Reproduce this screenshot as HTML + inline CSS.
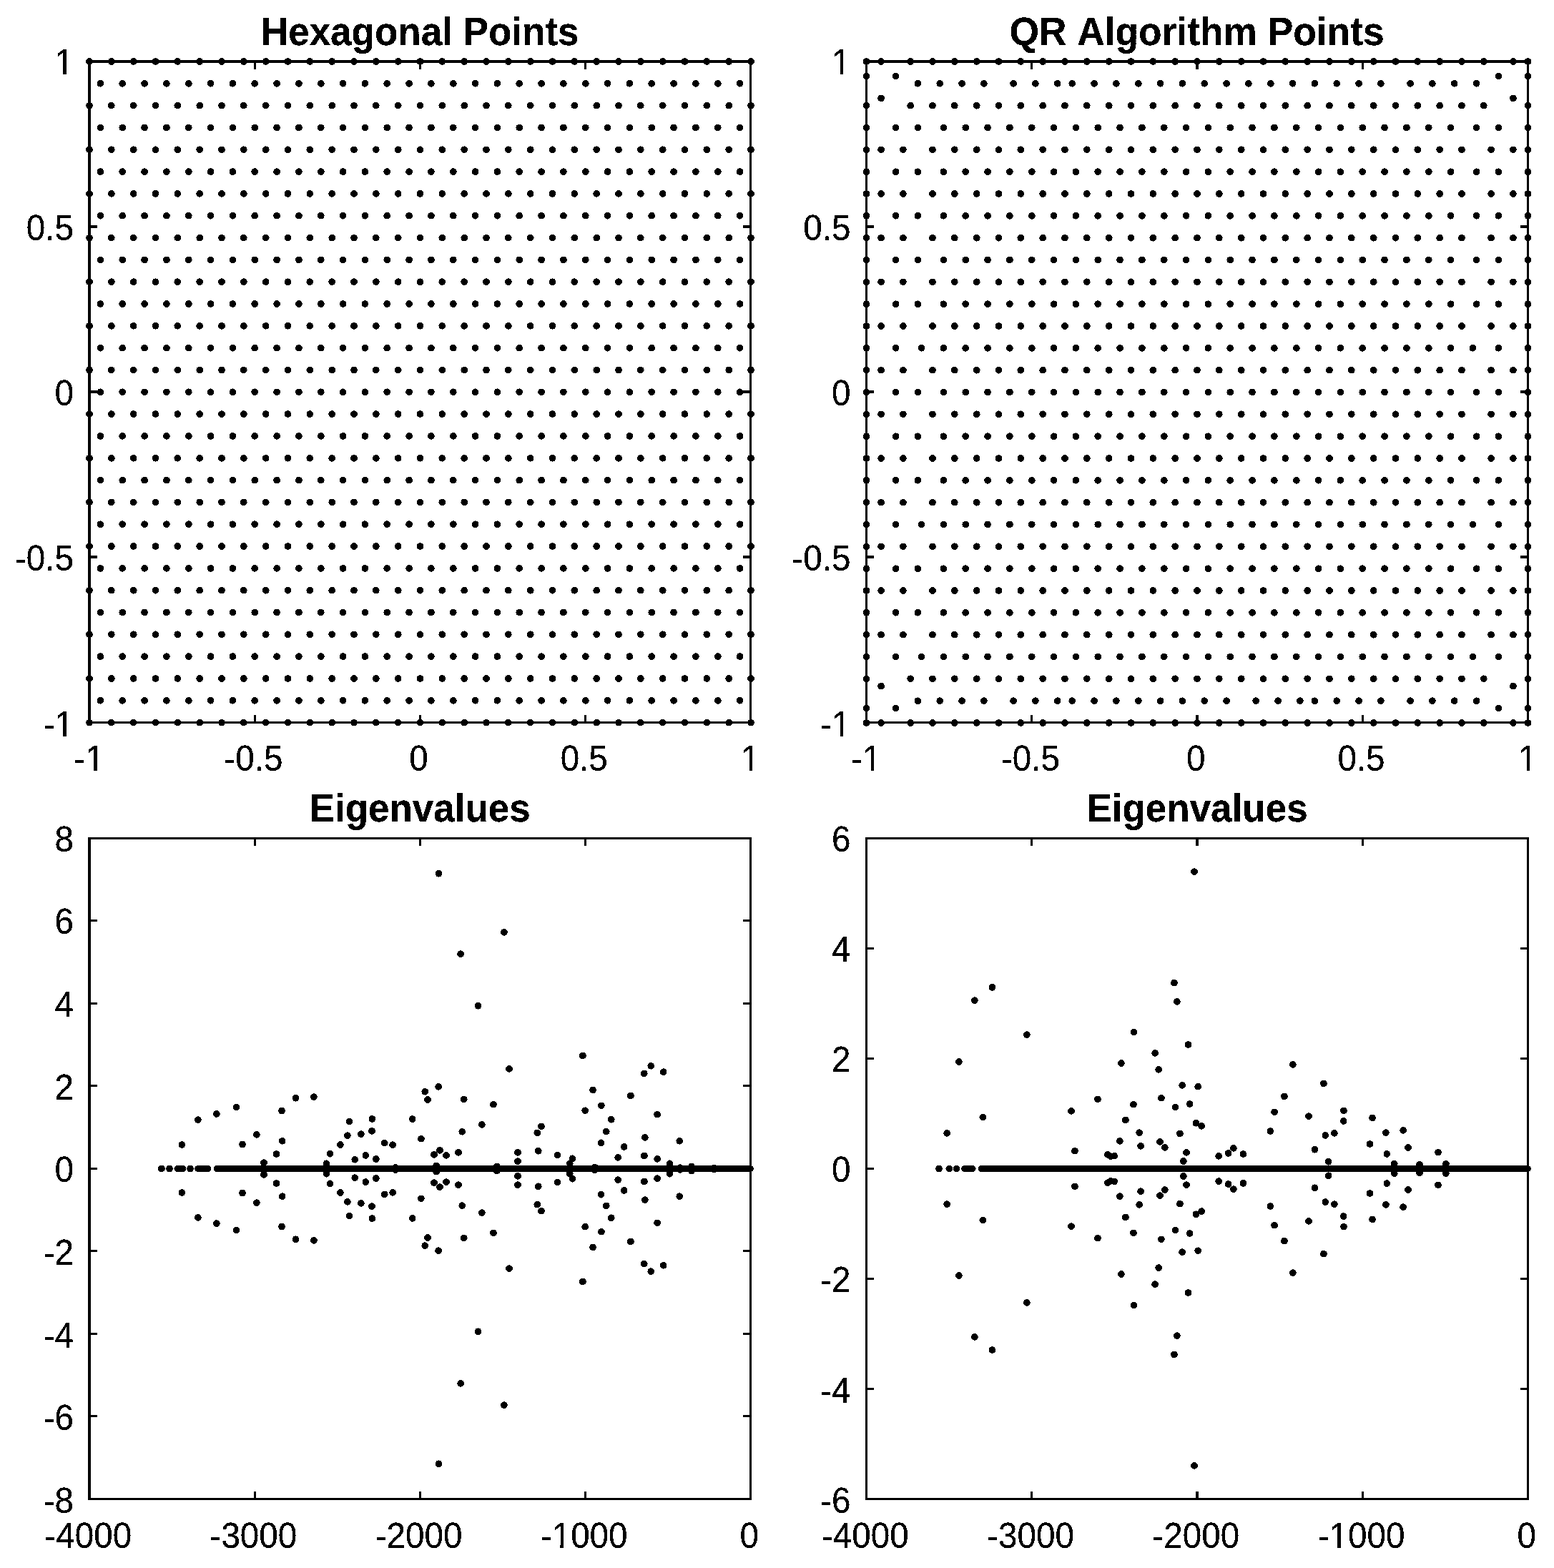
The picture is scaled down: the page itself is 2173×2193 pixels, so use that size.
<!DOCTYPE html>
<html lang="en">
<head>
<meta charset="utf-8">
<title>Hexagonal Points, QR Algorithm Points and Eigenvalues</title>
<style>
html,body{margin:0;padding:0;background:#fff;}
body{width:2173px;height:2193px;overflow:hidden;}
svg{display:block;}
text{font-family:"Liberation Sans",sans-serif;fill:#000;font-kerning:none;filter:url(#bw);}
.tk{font-size:47.6px;}
.tt{font-size:53px;font-weight:bold;}
</style>
</head>
<body>
<svg width="2173" height="2193" viewBox="0 0 2173 2193" shape-rendering="crispEdges">
<defs><filter id="bw" x="-5%" y="-20%" width="110%" height="140%" color-interpolation-filters="sRGB"><feComponentTransfer><feFuncA type="discrete" tableValues="0 1 1"/></feComponentTransfer></filter></defs>
<rect width="2173" height="2193" fill="#fff"/>
<path d="M123 84H1051V1012H123ZM127 88V1009H1048V88Z" fill="#000" fill-rule="evenodd"/><text transform="translate(124.6 1078.3) scale(1 1.03)" text-anchor="middle" class="tk">-1</text><path d="M121.91 1074.04h9.09v4.86h-9.09zM135.72 1074.04h8.72v4.86h-8.72z" fill="#fff"/><text transform="translate(354.4 1078.3) scale(1 1.03)" text-anchor="middle" class="tk">-0.5</text><text transform="translate(585.5 1078.3) scale(1 1.03)" text-anchor="middle" class="tk">0</text><text transform="translate(816.7 1078.3) scale(1 1.03)" text-anchor="middle" class="tk">0.5</text><text transform="translate(1049.1 1078.3) scale(1 1.03)" text-anchor="middle" class="tk">1</text><path d="M1038.49 1074.04h9.09v4.86h-9.09zM1052.29 1074.04h8.72v4.86h-8.72z" fill="#fff"/><text transform="translate(103 1029.8) scale(1 1.03)" text-anchor="end" class="tk">-1</text><path d="M79.15 1025.54h9.09v4.86h-9.09zM92.95 1025.54h8.72v4.86h-8.72z" fill="#fff"/><text transform="translate(103 798.4) scale(1 1.03)" text-anchor="end" class="tk">-0.5</text><text transform="translate(103 567) scale(1 1.03)" text-anchor="end" class="tk">0</text><text transform="translate(103 335.6) scale(1 1.03)" text-anchor="end" class="tk">0.5</text><text transform="translate(103 104.2) scale(1 1.03)" text-anchor="end" class="tk">1</text><path d="M79.15 99.94h9.09v4.86h-9.09zM92.95 99.94h8.72v4.86h-8.72z" fill="#fff"/><path d="M356.1 1010.5v-10.7M356.1 86v10.7M587.2 1010.5v-10.7M587.2 86v10.7M818.4 1010.5v-10.7M818.4 86v10.7" stroke="#000" stroke-width="3.2" fill="none"/><path d="M125 779h10.7M1049.5 779h-10.7M125 548h10.7M1049.5 548h-10.7M125 317h10.7M1049.5 317h-10.7" stroke="#000" stroke-width="4" fill="none"/><text transform="translate(587.2 62.6) scale(1 1.05)" text-anchor="middle" class="tt">Hexagonal Points</text>
<path d="M125 86h0M155.8 86h0M186.7 86h0M217.5 86h0M248.3 86h0M279.2 86h0M310 86h0M340.8 86h0M371.7 86h0M402.5 86h0M433.3 86h0M464.2 86h0M495 86h0M525.8 86h0M556.7 86h0M587.5 86h0M618.3 86h0M649.2 86h0M680 86h0M710.8 86h0M741.7 86h0M772.5 86h0M803.3 86h0M834.2 86h0M865 86h0M895.8 86h0M926.7 86h0M957.5 86h0M988.3 86h0M1019.2 86h0M1050 86h0M140.4 116.8h0M171.2 116.8h0M202.1 116.8h0M232.9 116.8h0M263.8 116.8h0M294.6 116.8h0M325.4 116.8h0M356.2 116.8h0M387.1 116.8h0M417.9 116.8h0M448.8 116.8h0M479.6 116.8h0M510.4 116.8h0M541.2 116.8h0M572.1 116.8h0M602.9 116.8h0M633.8 116.8h0M664.6 116.8h0M695.4 116.8h0M726.2 116.8h0M757.1 116.8h0M787.9 116.8h0M818.8 116.8h0M849.6 116.8h0M880.4 116.8h0M911.2 116.8h0M942.1 116.8h0M972.9 116.8h0M1003.8 116.8h0M1034.6 116.8h0M125 147.6h0M155.8 147.6h0M186.7 147.6h0M217.5 147.6h0M248.3 147.6h0M279.2 147.6h0M310 147.6h0M340.8 147.6h0M371.7 147.6h0M402.5 147.6h0M433.3 147.6h0M464.2 147.6h0M495 147.6h0M525.8 147.6h0M556.7 147.6h0M587.5 147.6h0M618.3 147.6h0M649.2 147.6h0M680 147.6h0M710.8 147.6h0M741.7 147.6h0M772.5 147.6h0M803.3 147.6h0M834.2 147.6h0M865 147.6h0M895.8 147.6h0M926.7 147.6h0M957.5 147.6h0M988.3 147.6h0M1019.2 147.6h0M1050 147.6h0M140.4 178.5h0M171.2 178.5h0M202.1 178.5h0M232.9 178.5h0M263.8 178.5h0M294.6 178.5h0M325.4 178.5h0M356.2 178.5h0M387.1 178.5h0M417.9 178.5h0M448.8 178.5h0M479.6 178.5h0M510.4 178.5h0M541.2 178.5h0M572.1 178.5h0M602.9 178.5h0M633.8 178.5h0M664.6 178.5h0M695.4 178.5h0M726.2 178.5h0M757.1 178.5h0M787.9 178.5h0M818.8 178.5h0M849.6 178.5h0M880.4 178.5h0M911.2 178.5h0M942.1 178.5h0M972.9 178.5h0M1003.8 178.5h0M1034.6 178.5h0M125 209.3h0M155.8 209.3h0M186.7 209.3h0M217.5 209.3h0M248.3 209.3h0M279.2 209.3h0M310 209.3h0M340.8 209.3h0M371.7 209.3h0M402.5 209.3h0M433.3 209.3h0M464.2 209.3h0M495 209.3h0M525.8 209.3h0M556.7 209.3h0M587.5 209.3h0M618.3 209.3h0M649.2 209.3h0M680 209.3h0M710.8 209.3h0M741.7 209.3h0M772.5 209.3h0M803.3 209.3h0M834.2 209.3h0M865 209.3h0M895.8 209.3h0M926.7 209.3h0M957.5 209.3h0M988.3 209.3h0M1019.2 209.3h0M1050 209.3h0M140.4 240.1h0M171.2 240.1h0M202.1 240.1h0M232.9 240.1h0M263.8 240.1h0M294.6 240.1h0M325.4 240.1h0M356.2 240.1h0M387.1 240.1h0M417.9 240.1h0M448.8 240.1h0M479.6 240.1h0M510.4 240.1h0M541.2 240.1h0M572.1 240.1h0M602.9 240.1h0M633.8 240.1h0M664.6 240.1h0M695.4 240.1h0M726.2 240.1h0M757.1 240.1h0M787.9 240.1h0M818.8 240.1h0M849.6 240.1h0M880.4 240.1h0M911.2 240.1h0M942.1 240.1h0M972.9 240.1h0M1003.8 240.1h0M1034.6 240.1h0M125 270.9h0M155.8 270.9h0M186.7 270.9h0M217.5 270.9h0M248.3 270.9h0M279.2 270.9h0M310 270.9h0M340.8 270.9h0M371.7 270.9h0M402.5 270.9h0M433.3 270.9h0M464.2 270.9h0M495 270.9h0M525.8 270.9h0M556.7 270.9h0M587.5 270.9h0M618.3 270.9h0M649.2 270.9h0M680 270.9h0M710.8 270.9h0M741.7 270.9h0M772.5 270.9h0M803.3 270.9h0M834.2 270.9h0M865 270.9h0M895.8 270.9h0M926.7 270.9h0M957.5 270.9h0M988.3 270.9h0M1019.2 270.9h0M1050 270.9h0M140.4 301.7h0M171.2 301.7h0M202.1 301.7h0M232.9 301.7h0M263.8 301.7h0M294.6 301.7h0M325.4 301.7h0M356.2 301.7h0M387.1 301.7h0M417.9 301.7h0M448.8 301.7h0M479.6 301.7h0M510.4 301.7h0M541.2 301.7h0M572.1 301.7h0M602.9 301.7h0M633.8 301.7h0M664.6 301.7h0M695.4 301.7h0M726.2 301.7h0M757.1 301.7h0M787.9 301.7h0M818.8 301.7h0M849.6 301.7h0M880.4 301.7h0M911.2 301.7h0M942.1 301.7h0M972.9 301.7h0M1003.8 301.7h0M1034.6 301.7h0M125 332.6h0M155.8 332.6h0M186.7 332.6h0M217.5 332.6h0M248.3 332.6h0M279.2 332.6h0M310 332.6h0M340.8 332.6h0M371.7 332.6h0M402.5 332.6h0M433.3 332.6h0M464.2 332.6h0M495 332.6h0M525.8 332.6h0M556.7 332.6h0M587.5 332.6h0M618.3 332.6h0M649.2 332.6h0M680 332.6h0M710.8 332.6h0M741.7 332.6h0M772.5 332.6h0M803.3 332.6h0M834.2 332.6h0M865 332.6h0M895.8 332.6h0M926.7 332.6h0M957.5 332.6h0M988.3 332.6h0M1019.2 332.6h0M1050 332.6h0M140.4 363.4h0M171.2 363.4h0M202.1 363.4h0M232.9 363.4h0M263.8 363.4h0M294.6 363.4h0M325.4 363.4h0M356.2 363.4h0M387.1 363.4h0M417.9 363.4h0M448.8 363.4h0M479.6 363.4h0M510.4 363.4h0M541.2 363.4h0M572.1 363.4h0M602.9 363.4h0M633.8 363.4h0M664.6 363.4h0M695.4 363.4h0M726.2 363.4h0M757.1 363.4h0M787.9 363.4h0M818.8 363.4h0M849.6 363.4h0M880.4 363.4h0M911.2 363.4h0M942.1 363.4h0M972.9 363.4h0M1003.8 363.4h0M1034.6 363.4h0M125 394.2h0M155.8 394.2h0M186.7 394.2h0M217.5 394.2h0M248.3 394.2h0M279.2 394.2h0M310 394.2h0M340.8 394.2h0M371.7 394.2h0M402.5 394.2h0M433.3 394.2h0M464.2 394.2h0M495 394.2h0M525.8 394.2h0M556.7 394.2h0M587.5 394.2h0M618.3 394.2h0M649.2 394.2h0M680 394.2h0M710.8 394.2h0M741.7 394.2h0M772.5 394.2h0M803.3 394.2h0M834.2 394.2h0M865 394.2h0M895.8 394.2h0M926.7 394.2h0M957.5 394.2h0M988.3 394.2h0M1019.2 394.2h0M1050 394.2h0M140.4 425h0M171.2 425h0M202.1 425h0M232.9 425h0M263.8 425h0M294.6 425h0M325.4 425h0M356.2 425h0M387.1 425h0M417.9 425h0M448.8 425h0M479.6 425h0M510.4 425h0M541.2 425h0M572.1 425h0M602.9 425h0M633.8 425h0M664.6 425h0M695.4 425h0M726.2 425h0M757.1 425h0M787.9 425h0M818.8 425h0M849.6 425h0M880.4 425h0M911.2 425h0M942.1 425h0M972.9 425h0M1003.8 425h0M1034.6 425h0M125 455.8h0M155.8 455.8h0M186.7 455.8h0M217.5 455.8h0M248.3 455.8h0M279.2 455.8h0M310 455.8h0M340.8 455.8h0M371.7 455.8h0M402.5 455.8h0M433.3 455.8h0M464.2 455.8h0M495 455.8h0M525.8 455.8h0M556.7 455.8h0M587.5 455.8h0M618.3 455.8h0M649.2 455.8h0M680 455.8h0M710.8 455.8h0M741.7 455.8h0M772.5 455.8h0M803.3 455.8h0M834.2 455.8h0M865 455.8h0M895.8 455.8h0M926.7 455.8h0M957.5 455.8h0M988.3 455.8h0M1019.2 455.8h0M1050 455.8h0M140.4 486.7h0M171.2 486.7h0M202.1 486.7h0M232.9 486.7h0M263.8 486.7h0M294.6 486.7h0M325.4 486.7h0M356.2 486.7h0M387.1 486.7h0M417.9 486.7h0M448.8 486.7h0M479.6 486.7h0M510.4 486.7h0M541.2 486.7h0M572.1 486.7h0M602.9 486.7h0M633.8 486.7h0M664.6 486.7h0M695.4 486.7h0M726.2 486.7h0M757.1 486.7h0M787.9 486.7h0M818.8 486.7h0M849.6 486.7h0M880.4 486.7h0M911.2 486.7h0M942.1 486.7h0M972.9 486.7h0M1003.8 486.7h0M1034.6 486.7h0M125 517.5h0M155.8 517.5h0M186.7 517.5h0M217.5 517.5h0M248.3 517.5h0M279.2 517.5h0M310 517.5h0M340.8 517.5h0M371.7 517.5h0M402.5 517.5h0M433.3 517.5h0M464.2 517.5h0M495 517.5h0M525.8 517.5h0M556.7 517.5h0M587.5 517.5h0M618.3 517.5h0M649.2 517.5h0M680 517.5h0M710.8 517.5h0M741.7 517.5h0M772.5 517.5h0M803.3 517.5h0M834.2 517.5h0M865 517.5h0M895.8 517.5h0M926.7 517.5h0M957.5 517.5h0M988.3 517.5h0M1019.2 517.5h0M1050 517.5h0M140.4 548.3h0M171.2 548.3h0M202.1 548.3h0M232.9 548.3h0M263.8 548.3h0M294.6 548.3h0M325.4 548.3h0M356.2 548.3h0M387.1 548.3h0M417.9 548.3h0M448.8 548.3h0M479.6 548.3h0M510.4 548.3h0M541.2 548.3h0M572.1 548.3h0M602.9 548.3h0M633.8 548.3h0M664.6 548.3h0M695.4 548.3h0M726.2 548.3h0M757.1 548.3h0M787.9 548.3h0M818.8 548.3h0M849.6 548.3h0M880.4 548.3h0M911.2 548.3h0M942.1 548.3h0M972.9 548.3h0M1003.8 548.3h0M1034.6 548.3h0M125 579.1h0M155.8 579.1h0M186.7 579.1h0M217.5 579.1h0M248.3 579.1h0M279.2 579.1h0M310 579.1h0M340.8 579.1h0M371.7 579.1h0M402.5 579.1h0M433.3 579.1h0M464.2 579.1h0M495 579.1h0M525.8 579.1h0M556.7 579.1h0M587.5 579.1h0M618.3 579.1h0M649.2 579.1h0M680 579.1h0M710.8 579.1h0M741.7 579.1h0M772.5 579.1h0M803.3 579.1h0M834.2 579.1h0M865 579.1h0M895.8 579.1h0M926.7 579.1h0M957.5 579.1h0M988.3 579.1h0M1019.2 579.1h0M1050 579.1h0M140.4 609.9h0M171.2 609.9h0M202.1 609.9h0M232.9 609.9h0M263.8 609.9h0M294.6 609.9h0M325.4 609.9h0M356.2 609.9h0M387.1 609.9h0M417.9 609.9h0M448.8 609.9h0M479.6 609.9h0M510.4 609.9h0M541.2 609.9h0M572.1 609.9h0M602.9 609.9h0M633.8 609.9h0M664.6 609.9h0M695.4 609.9h0M726.2 609.9h0M757.1 609.9h0M787.9 609.9h0M818.8 609.9h0M849.6 609.9h0M880.4 609.9h0M911.2 609.9h0M942.1 609.9h0M972.9 609.9h0M1003.8 609.9h0M1034.6 609.9h0M125 640.8h0M155.8 640.8h0M186.7 640.8h0M217.5 640.8h0M248.3 640.8h0M279.2 640.8h0M310 640.8h0M340.8 640.8h0M371.7 640.8h0M402.5 640.8h0M433.3 640.8h0M464.2 640.8h0M495 640.8h0M525.8 640.8h0M556.7 640.8h0M587.5 640.8h0M618.3 640.8h0M649.2 640.8h0M680 640.8h0M710.8 640.8h0M741.7 640.8h0M772.5 640.8h0M803.3 640.8h0M834.2 640.8h0M865 640.8h0M895.8 640.8h0M926.7 640.8h0M957.5 640.8h0M988.3 640.8h0M1019.2 640.8h0M1050 640.8h0M140.4 671.6h0M171.2 671.6h0M202.1 671.6h0M232.9 671.6h0M263.8 671.6h0M294.6 671.6h0M325.4 671.6h0M356.2 671.6h0M387.1 671.6h0M417.9 671.6h0M448.8 671.6h0M479.6 671.6h0M510.4 671.6h0M541.2 671.6h0M572.1 671.6h0M602.9 671.6h0M633.8 671.6h0M664.6 671.6h0M695.4 671.6h0M726.2 671.6h0M757.1 671.6h0M787.9 671.6h0M818.8 671.6h0M849.6 671.6h0M880.4 671.6h0M911.2 671.6h0M942.1 671.6h0M972.9 671.6h0M1003.8 671.6h0M1034.6 671.6h0M125 702.4h0M155.8 702.4h0M186.7 702.4h0M217.5 702.4h0M248.3 702.4h0M279.2 702.4h0M310 702.4h0M340.8 702.4h0M371.7 702.4h0M402.5 702.4h0M433.3 702.4h0M464.2 702.4h0M495 702.4h0M525.8 702.4h0M556.7 702.4h0M587.5 702.4h0M618.3 702.4h0M649.2 702.4h0M680 702.4h0M710.8 702.4h0M741.7 702.4h0M772.5 702.4h0M803.3 702.4h0M834.2 702.4h0M865 702.4h0M895.8 702.4h0M926.7 702.4h0M957.5 702.4h0M988.3 702.4h0M1019.2 702.4h0M1050 702.4h0M140.4 733.2h0M171.2 733.2h0M202.1 733.2h0M232.9 733.2h0M263.8 733.2h0M294.6 733.2h0M325.4 733.2h0M356.2 733.2h0M387.1 733.2h0M417.9 733.2h0M448.8 733.2h0M479.6 733.2h0M510.4 733.2h0M541.2 733.2h0M572.1 733.2h0M602.9 733.2h0M633.8 733.2h0M664.6 733.2h0M695.4 733.2h0M726.2 733.2h0M757.1 733.2h0M787.9 733.2h0M818.8 733.2h0M849.6 733.2h0M880.4 733.2h0M911.2 733.2h0M942.1 733.2h0M972.9 733.2h0M1003.8 733.2h0M1034.6 733.2h0M125 764h0M155.8 764h0M186.7 764h0M217.5 764h0M248.3 764h0M279.2 764h0M310 764h0M340.8 764h0M371.7 764h0M402.5 764h0M433.3 764h0M464.2 764h0M495 764h0M525.8 764h0M556.7 764h0M587.5 764h0M618.3 764h0M649.2 764h0M680 764h0M710.8 764h0M741.7 764h0M772.5 764h0M803.3 764h0M834.2 764h0M865 764h0M895.8 764h0M926.7 764h0M957.5 764h0M988.3 764h0M1019.2 764h0M1050 764h0M140.4 794.9h0M171.2 794.9h0M202.1 794.9h0M232.9 794.9h0M263.8 794.9h0M294.6 794.9h0M325.4 794.9h0M356.2 794.9h0M387.1 794.9h0M417.9 794.9h0M448.8 794.9h0M479.6 794.9h0M510.4 794.9h0M541.2 794.9h0M572.1 794.9h0M602.9 794.9h0M633.8 794.9h0M664.6 794.9h0M695.4 794.9h0M726.2 794.9h0M757.1 794.9h0M787.9 794.9h0M818.8 794.9h0M849.6 794.9h0M880.4 794.9h0M911.2 794.9h0M942.1 794.9h0M972.9 794.9h0M1003.8 794.9h0M1034.6 794.9h0M125 825.7h0M155.8 825.7h0M186.7 825.7h0M217.5 825.7h0M248.3 825.7h0M279.2 825.7h0M310 825.7h0M340.8 825.7h0M371.7 825.7h0M402.5 825.7h0M433.3 825.7h0M464.2 825.7h0M495 825.7h0M525.8 825.7h0M556.7 825.7h0M587.5 825.7h0M618.3 825.7h0M649.2 825.7h0M680 825.7h0M710.8 825.7h0M741.7 825.7h0M772.5 825.7h0M803.3 825.7h0M834.2 825.7h0M865 825.7h0M895.8 825.7h0M926.7 825.7h0M957.5 825.7h0M988.3 825.7h0M1019.2 825.7h0M1050 825.7h0M140.4 856.5h0M171.2 856.5h0M202.1 856.5h0M232.9 856.5h0M263.8 856.5h0M294.6 856.5h0M325.4 856.5h0M356.2 856.5h0M387.1 856.5h0M417.9 856.5h0M448.8 856.5h0M479.6 856.5h0M510.4 856.5h0M541.2 856.5h0M572.1 856.5h0M602.9 856.5h0M633.8 856.5h0M664.6 856.5h0M695.4 856.5h0M726.2 856.5h0M757.1 856.5h0M787.9 856.5h0M818.8 856.5h0M849.6 856.5h0M880.4 856.5h0M911.2 856.5h0M942.1 856.5h0M972.9 856.5h0M1003.8 856.5h0M1034.6 856.5h0M125 887.3h0M155.8 887.3h0M186.7 887.3h0M217.5 887.3h0M248.3 887.3h0M279.2 887.3h0M310 887.3h0M340.8 887.3h0M371.7 887.3h0M402.5 887.3h0M433.3 887.3h0M464.2 887.3h0M495 887.3h0M525.8 887.3h0M556.7 887.3h0M587.5 887.3h0M618.3 887.3h0M649.2 887.3h0M680 887.3h0M710.8 887.3h0M741.7 887.3h0M772.5 887.3h0M803.3 887.3h0M834.2 887.3h0M865 887.3h0M895.8 887.3h0M926.7 887.3h0M957.5 887.3h0M988.3 887.3h0M1019.2 887.3h0M1050 887.3h0M140.4 918.1h0M171.2 918.1h0M202.1 918.1h0M232.9 918.1h0M263.8 918.1h0M294.6 918.1h0M325.4 918.1h0M356.2 918.1h0M387.1 918.1h0M417.9 918.1h0M448.8 918.1h0M479.6 918.1h0M510.4 918.1h0M541.2 918.1h0M572.1 918.1h0M602.9 918.1h0M633.8 918.1h0M664.6 918.1h0M695.4 918.1h0M726.2 918.1h0M757.1 918.1h0M787.9 918.1h0M818.8 918.1h0M849.6 918.1h0M880.4 918.1h0M911.2 918.1h0M942.1 918.1h0M972.9 918.1h0M1003.8 918.1h0M1034.6 918.1h0M125 949h0M155.8 949h0M186.7 949h0M217.5 949h0M248.3 949h0M279.2 949h0M310 949h0M340.8 949h0M371.7 949h0M402.5 949h0M433.3 949h0M464.2 949h0M495 949h0M525.8 949h0M556.7 949h0M587.5 949h0M618.3 949h0M649.2 949h0M680 949h0M710.8 949h0M741.7 949h0M772.5 949h0M803.3 949h0M834.2 949h0M865 949h0M895.8 949h0M926.7 949h0M957.5 949h0M988.3 949h0M1019.2 949h0M1050 949h0M140.4 979.8h0M171.2 979.8h0M202.1 979.8h0M232.9 979.8h0M263.8 979.8h0M294.6 979.8h0M325.4 979.8h0M356.2 979.8h0M387.1 979.8h0M417.9 979.8h0M448.8 979.8h0M479.6 979.8h0M510.4 979.8h0M541.2 979.8h0M572.1 979.8h0M602.9 979.8h0M633.8 979.8h0M664.6 979.8h0M695.4 979.8h0M726.2 979.8h0M757.1 979.8h0M787.9 979.8h0M818.8 979.8h0M849.6 979.8h0M880.4 979.8h0M911.2 979.8h0M942.1 979.8h0M972.9 979.8h0M1003.8 979.8h0M1034.6 979.8h0M125 1010.6h0M155.8 1010.6h0M186.7 1010.6h0M217.5 1010.6h0M248.3 1010.6h0M279.2 1010.6h0M310 1010.6h0M340.8 1010.6h0M371.7 1010.6h0M402.5 1010.6h0M433.3 1010.6h0M464.2 1010.6h0M495 1010.6h0M525.8 1010.6h0M556.7 1010.6h0M587.5 1010.6h0M618.3 1010.6h0M649.2 1010.6h0M680 1010.6h0M710.8 1010.6h0M741.7 1010.6h0M772.5 1010.6h0M803.3 1010.6h0M834.2 1010.6h0M865 1010.6h0M895.8 1010.6h0M926.7 1010.6h0M957.5 1010.6h0M988.3 1010.6h0M1019.2 1010.6h0M1050 1010.6h0" fill="none" stroke="#000" stroke-width="9.7" stroke-linecap="round"/>
<path d="M1210 84H2138V1012H1210ZM1213 88V1009H2135V88Z" fill="#000" fill-rule="evenodd"/><text transform="translate(1211.1 1078.3) scale(1 1.03)" text-anchor="middle" class="tk">-1</text><path d="M1208.41 1074.04h9.09v4.86h-9.09zM1222.22 1074.04h8.72v4.86h-8.72z" fill="#fff"/><text transform="translate(1441 1078.3) scale(1 1.03)" text-anchor="middle" class="tk">-0.5</text><text transform="translate(1672.3 1078.3) scale(1 1.03)" text-anchor="middle" class="tk">0</text><text transform="translate(1903.5 1078.3) scale(1 1.03)" text-anchor="middle" class="tk">0.5</text><text transform="translate(2136.1 1078.3) scale(1 1.03)" text-anchor="middle" class="tk">1</text><path d="M2125.49 1074.04h9.09v4.86h-9.09zM2139.29 1074.04h8.72v4.86h-8.72z" fill="#fff"/><text transform="translate(1189.5 1029.8) scale(1 1.03)" text-anchor="end" class="tk">-1</text><path d="M1165.65 1025.54h9.09v4.86h-9.09zM1179.45 1025.54h8.72v4.86h-8.72z" fill="#fff"/><text transform="translate(1189.5 798.4) scale(1 1.03)" text-anchor="end" class="tk">-0.5</text><text transform="translate(1189.5 567) scale(1 1.03)" text-anchor="end" class="tk">0</text><text transform="translate(1189.5 335.6) scale(1 1.03)" text-anchor="end" class="tk">0.5</text><text transform="translate(1189.5 104.2) scale(1 1.03)" text-anchor="end" class="tk">1</text><path d="M1165.65 99.94h9.09v4.86h-9.09zM1179.45 99.94h8.72v4.86h-8.72z" fill="#fff"/><path d="M1442.8 1010.5v-10.7M1442.8 86v10.7M1674 1010.5v-10.7M1674 86v10.7M1905.2 1010.5v-10.7M1905.2 86v10.7" stroke="#000" stroke-width="3.2" fill="none"/><path d="M1211.5 779h10.7M2136.5 779h-10.7M1211.5 548h10.7M2136.5 548h-10.7M1211.5 317h10.7M2136.5 317h-10.7" stroke="#000" stroke-width="4" fill="none"/><text transform="translate(1673.5 62.6) scale(1.006 1.05)" text-anchor="middle" class="tt">QR Algorithm Points</text>
<path d="M1211.5 86h0M1232.1 86h0M1273.2 86h0M1304 86h0M1334.8 86h0M1365.7 86h0M1396.5 86h0M1427.3 86h0M1458.2 86h0M1489 86h0M1519.8 86h0M1550.7 86h0M1581.5 86h0M1612.3 86h0M1643.2 86h0M1674 86h0M1704.8 86h0M1735.7 86h0M1766.5 86h0M1797.3 86h0M1828.2 86h0M1859 86h0M1889.8 86h0M1920.7 86h0M1951.5 86h0M1982.3 86h0M2013.2 86h0M2044 86h0M2074.8 86h0M2115.9 86h0M2136.5 86h0M1211.5 106.6h0M1252.6 106.6h0M2095.4 106.6h0M2136.5 106.6h0M1283.4 116.8h0M1314.3 116.8h0M1345.1 116.8h0M1375.9 116.8h0M1417.1 116.8h0M1447.9 116.8h0M1478.7 116.8h0M1499.3 116.8h0M1530.1 116.8h0M1560.9 116.8h0M1591.8 116.8h0M1622.6 116.8h0M1653.4 116.8h0M1684.3 116.8h0M1715.1 116.8h0M1745.9 116.8h0M1776.8 116.8h0M1807.6 116.8h0M1838.4 116.8h0M1869.3 116.8h0M1900.1 116.8h0M1930.9 116.8h0M1972.1 116.8h0M2002.9 116.8h0M2033.7 116.8h0M2064.6 116.8h0M1232.1 137.4h0M2115.9 137.4h0M1211.5 147.7h0M1273.2 147.7h0M1304 147.7h0M1334.8 147.7h0M1365.7 147.7h0M1396.5 147.7h0M1427.3 147.7h0M1458.2 147.7h0M1489 147.7h0M1519.8 147.7h0M1550.7 147.7h0M1581.5 147.7h0M1612.3 147.7h0M1643.2 147.7h0M1674 147.7h0M1704.8 147.7h0M1735.7 147.7h0M1766.5 147.7h0M1797.3 147.7h0M1828.2 147.7h0M1859 147.7h0M1889.8 147.7h0M1920.7 147.7h0M1951.5 147.7h0M1982.3 147.7h0M2013.2 147.7h0M2044 147.7h0M2074.8 147.7h0M2136.5 147.7h0M1211.5 178.5h0M1252.6 178.5h0M1283.4 178.5h0M1319.4 178.5h0M1350.2 178.5h0M1381.1 178.5h0M1411.9 178.5h0M1442.8 178.5h0M1473.6 178.5h0M1504.4 178.5h0M1535.2 178.5h0M1566.1 178.5h0M1596.9 178.5h0M1627.8 178.5h0M1658.6 178.5h0M1689.4 178.5h0M1720.2 178.5h0M1751.1 178.5h0M1781.9 178.5h0M1812.8 178.5h0M1843.6 178.5h0M1874.4 178.5h0M1905.2 178.5h0M1936.1 178.5h0M1966.9 178.5h0M1997.8 178.5h0M2028.6 178.5h0M2064.6 178.5h0M2095.4 178.5h0M2136.5 178.5h0M1211.5 209.3h0M1232.1 209.3h0M1262.9 209.3h0M1304 209.3h0M1334.8 209.3h0M1365.7 209.3h0M1396.5 209.3h0M1427.3 209.3h0M1458.2 209.3h0M1489 209.3h0M1519.8 209.3h0M1550.7 209.3h0M1581.5 209.3h0M1612.3 209.3h0M1643.2 209.3h0M1674 209.3h0M1704.8 209.3h0M1735.7 209.3h0M1766.5 209.3h0M1797.3 209.3h0M1828.2 209.3h0M1859 209.3h0M1889.8 209.3h0M1920.7 209.3h0M1951.5 209.3h0M1982.3 209.3h0M2013.2 209.3h0M2044 209.3h0M2085.1 209.3h0M2115.9 209.3h0M2136.5 209.3h0M1211.5 240.2h0M1252.6 240.2h0M1283.4 240.2h0M1319.4 240.2h0M1350.2 240.2h0M1381.1 240.2h0M1411.9 240.2h0M1442.8 240.2h0M1473.6 240.2h0M1504.4 240.2h0M1535.2 240.2h0M1566.1 240.2h0M1596.9 240.2h0M1627.8 240.2h0M1658.6 240.2h0M1689.4 240.2h0M1720.2 240.2h0M1751.1 240.2h0M1781.9 240.2h0M1812.8 240.2h0M1843.6 240.2h0M1874.4 240.2h0M1905.2 240.2h0M1936.1 240.2h0M1966.9 240.2h0M1997.8 240.2h0M2028.6 240.2h0M2064.6 240.2h0M2095.4 240.2h0M2136.5 240.2h0M1211.5 271h0M1232.1 271h0M1262.9 271h0M1304 271h0M1334.8 271h0M1365.7 271h0M1396.5 271h0M1427.3 271h0M1458.2 271h0M1489 271h0M1519.8 271h0M1550.7 271h0M1581.5 271h0M1612.3 271h0M1643.2 271h0M1674 271h0M1704.8 271h0M1735.7 271h0M1766.5 271h0M1797.3 271h0M1828.2 271h0M1859 271h0M1889.8 271h0M1920.7 271h0M1951.5 271h0M1982.3 271h0M2013.2 271h0M2044 271h0M2085.1 271h0M2115.9 271h0M2136.5 271h0M1211.5 301.8h0M1252.6 301.8h0M1283.4 301.8h0M1319.4 301.8h0M1350.2 301.8h0M1381.1 301.8h0M1411.9 301.8h0M1442.8 301.8h0M1473.6 301.8h0M1504.4 301.8h0M1535.2 301.8h0M1566.1 301.8h0M1596.9 301.8h0M1627.8 301.8h0M1658.6 301.8h0M1689.4 301.8h0M1720.2 301.8h0M1751.1 301.8h0M1781.9 301.8h0M1812.8 301.8h0M1843.6 301.8h0M1874.4 301.8h0M1905.2 301.8h0M1936.1 301.8h0M1966.9 301.8h0M1997.8 301.8h0M2028.6 301.8h0M2064.6 301.8h0M2095.4 301.8h0M2136.5 301.8h0M1211.5 332.7h0M1232.1 332.7h0M1262.9 332.7h0M1304 332.7h0M1334.8 332.7h0M1365.7 332.7h0M1396.5 332.7h0M1427.3 332.7h0M1458.2 332.7h0M1489 332.7h0M1519.8 332.7h0M1550.7 332.7h0M1581.5 332.7h0M1612.3 332.7h0M1643.2 332.7h0M1674 332.7h0M1704.8 332.7h0M1735.7 332.7h0M1766.5 332.7h0M1797.3 332.7h0M1828.2 332.7h0M1859 332.7h0M1889.8 332.7h0M1920.7 332.7h0M1951.5 332.7h0M1982.3 332.7h0M2013.2 332.7h0M2044 332.7h0M2085.1 332.7h0M2115.9 332.7h0M2136.5 332.7h0M1211.5 363.5h0M1252.6 363.5h0M1283.4 363.5h0M1319.4 363.5h0M1350.2 363.5h0M1381.1 363.5h0M1411.9 363.5h0M1442.8 363.5h0M1473.6 363.5h0M1504.4 363.5h0M1535.2 363.5h0M1566.1 363.5h0M1596.9 363.5h0M1627.8 363.5h0M1658.6 363.5h0M1689.4 363.5h0M1720.2 363.5h0M1751.1 363.5h0M1781.9 363.5h0M1812.8 363.5h0M1843.6 363.5h0M1874.4 363.5h0M1905.2 363.5h0M1936.1 363.5h0M1966.9 363.5h0M1997.8 363.5h0M2028.6 363.5h0M2064.6 363.5h0M2095.4 363.5h0M2136.5 363.5h0M1211.5 394.3h0M1232.1 394.3h0M1262.9 394.3h0M1304 394.3h0M1334.8 394.3h0M1365.7 394.3h0M1396.5 394.3h0M1427.3 394.3h0M1458.2 394.3h0M1489 394.3h0M1519.8 394.3h0M1550.7 394.3h0M1581.5 394.3h0M1612.3 394.3h0M1643.2 394.3h0M1674 394.3h0M1704.8 394.3h0M1735.7 394.3h0M1766.5 394.3h0M1797.3 394.3h0M1828.2 394.3h0M1859 394.3h0M1889.8 394.3h0M1920.7 394.3h0M1951.5 394.3h0M1982.3 394.3h0M2013.2 394.3h0M2044 394.3h0M2085.1 394.3h0M2115.9 394.3h0M2136.5 394.3h0M1211.5 425.2h0M1252.6 425.2h0M1283.4 425.2h0M1319.4 425.2h0M1350.2 425.2h0M1381.1 425.2h0M1411.9 425.2h0M1442.8 425.2h0M1473.6 425.2h0M1504.4 425.2h0M1535.2 425.2h0M1566.1 425.2h0M1596.9 425.2h0M1627.8 425.2h0M1658.6 425.2h0M1689.4 425.2h0M1720.2 425.2h0M1751.1 425.2h0M1781.9 425.2h0M1812.8 425.2h0M1843.6 425.2h0M1874.4 425.2h0M1905.2 425.2h0M1936.1 425.2h0M1966.9 425.2h0M1997.8 425.2h0M2028.6 425.2h0M2064.6 425.2h0M2095.4 425.2h0M2136.5 425.2h0M1211.5 456h0M1232.1 456h0M1262.9 456h0M1304 456h0M1334.8 456h0M1365.7 456h0M1396.5 456h0M1427.3 456h0M1458.2 456h0M1489 456h0M1519.8 456h0M1550.7 456h0M1581.5 456h0M1612.3 456h0M1643.2 456h0M1674 456h0M1704.8 456h0M1735.7 456h0M1766.5 456h0M1797.3 456h0M1828.2 456h0M1859 456h0M1889.8 456h0M1920.7 456h0M1951.5 456h0M1982.3 456h0M2013.2 456h0M2044 456h0M2085.1 456h0M2115.9 456h0M2136.5 456h0M1211.5 486.8h0M1252.6 486.8h0M1288.6 486.8h0M1319.4 486.8h0M1350.2 486.8h0M1381.1 486.8h0M1411.9 486.8h0M1442.8 486.8h0M1473.6 486.8h0M1504.4 486.8h0M1535.2 486.8h0M1566.1 486.8h0M1596.9 486.8h0M1627.8 486.8h0M1658.6 486.8h0M1689.4 486.8h0M1720.2 486.8h0M1751.1 486.8h0M1781.9 486.8h0M1812.8 486.8h0M1843.6 486.8h0M1874.4 486.8h0M1905.2 486.8h0M1936.1 486.8h0M1966.9 486.8h0M1997.8 486.8h0M2028.6 486.8h0M2059.4 486.8h0M2095.4 486.8h0M2136.5 486.8h0M1211.5 517.7h0M1232.1 517.7h0M1262.9 517.7h0M1304 517.7h0M1334.8 517.7h0M1365.7 517.7h0M1396.5 517.7h0M1427.3 517.7h0M1458.2 517.7h0M1489 517.7h0M1519.8 517.7h0M1550.7 517.7h0M1581.5 517.7h0M1612.3 517.7h0M1643.2 517.7h0M1674 517.7h0M1704.8 517.7h0M1735.7 517.7h0M1766.5 517.7h0M1797.3 517.7h0M1828.2 517.7h0M1859 517.7h0M1889.8 517.7h0M1920.7 517.7h0M1951.5 517.7h0M1982.3 517.7h0M2013.2 517.7h0M2044 517.7h0M2085.1 517.7h0M2115.9 517.7h0M2136.5 517.7h0M1211.5 548.5h0M1252.6 548.5h0M1283.4 548.5h0M1319.4 548.5h0M1350.2 548.5h0M1381.1 548.5h0M1411.9 548.5h0M1442.8 548.5h0M1473.6 548.5h0M1504.4 548.5h0M1535.2 548.5h0M1566.1 548.5h0M1596.9 548.5h0M1627.8 548.5h0M1658.6 548.5h0M1689.4 548.5h0M1720.2 548.5h0M1751.1 548.5h0M1781.9 548.5h0M1812.8 548.5h0M1843.6 548.5h0M1874.4 548.5h0M1905.2 548.5h0M1936.1 548.5h0M1966.9 548.5h0M1997.8 548.5h0M2028.6 548.5h0M2064.6 548.5h0M2095.4 548.5h0M2136.5 548.5h0M1211.5 579.3h0M1232.1 579.3h0M1262.9 579.3h0M1304 579.3h0M1334.8 579.3h0M1365.7 579.3h0M1396.5 579.3h0M1427.3 579.3h0M1458.2 579.3h0M1489 579.3h0M1519.8 579.3h0M1550.7 579.3h0M1581.5 579.3h0M1612.3 579.3h0M1643.2 579.3h0M1674 579.3h0M1704.8 579.3h0M1735.7 579.3h0M1766.5 579.3h0M1797.3 579.3h0M1828.2 579.3h0M1859 579.3h0M1889.8 579.3h0M1920.7 579.3h0M1951.5 579.3h0M1982.3 579.3h0M2013.2 579.3h0M2044 579.3h0M2085.1 579.3h0M2115.9 579.3h0M2136.5 579.3h0M1211.5 610.2h0M1252.6 610.2h0M1283.4 610.2h0M1319.4 610.2h0M1350.2 610.2h0M1381.1 610.2h0M1411.9 610.2h0M1442.8 610.2h0M1473.6 610.2h0M1504.4 610.2h0M1535.2 610.2h0M1566.1 610.2h0M1596.9 610.2h0M1627.8 610.2h0M1658.6 610.2h0M1689.4 610.2h0M1720.2 610.2h0M1751.1 610.2h0M1781.9 610.2h0M1812.8 610.2h0M1843.6 610.2h0M1874.4 610.2h0M1905.2 610.2h0M1936.1 610.2h0M1966.9 610.2h0M1997.8 610.2h0M2028.6 610.2h0M2064.6 610.2h0M2095.4 610.2h0M2136.5 610.2h0M1211.5 641h0M1232.1 641h0M1262.9 641h0M1304 641h0M1334.8 641h0M1365.7 641h0M1396.5 641h0M1427.3 641h0M1458.2 641h0M1489 641h0M1519.8 641h0M1550.7 641h0M1581.5 641h0M1612.3 641h0M1643.2 641h0M1674 641h0M1704.8 641h0M1735.7 641h0M1766.5 641h0M1797.3 641h0M1828.2 641h0M1859 641h0M1889.8 641h0M1920.7 641h0M1951.5 641h0M1982.3 641h0M2013.2 641h0M2044 641h0M2085.1 641h0M2115.9 641h0M2136.5 641h0M1211.5 671.8h0M1252.6 671.8h0M1283.4 671.8h0M1319.4 671.8h0M1350.2 671.8h0M1381.1 671.8h0M1411.9 671.8h0M1442.8 671.8h0M1473.6 671.8h0M1504.4 671.8h0M1535.2 671.8h0M1566.1 671.8h0M1596.9 671.8h0M1627.8 671.8h0M1658.6 671.8h0M1689.4 671.8h0M1720.2 671.8h0M1751.1 671.8h0M1781.9 671.8h0M1812.8 671.8h0M1843.6 671.8h0M1874.4 671.8h0M1905.2 671.8h0M1936.1 671.8h0M1966.9 671.8h0M1997.8 671.8h0M2028.6 671.8h0M2064.6 671.8h0M2095.4 671.8h0M2136.5 671.8h0M1211.5 702.7h0M1232.1 702.7h0M1262.9 702.7h0M1304 702.7h0M1334.8 702.7h0M1365.7 702.7h0M1396.5 702.7h0M1427.3 702.7h0M1458.2 702.7h0M1489 702.7h0M1519.8 702.7h0M1550.7 702.7h0M1581.5 702.7h0M1612.3 702.7h0M1643.2 702.7h0M1674 702.7h0M1704.8 702.7h0M1735.7 702.7h0M1766.5 702.7h0M1797.3 702.7h0M1828.2 702.7h0M1859 702.7h0M1889.8 702.7h0M1920.7 702.7h0M1951.5 702.7h0M1982.3 702.7h0M2013.2 702.7h0M2044 702.7h0M2085.1 702.7h0M2115.9 702.7h0M2136.5 702.7h0M1211.5 733.5h0M1252.6 733.5h0M1288.6 733.5h0M1319.4 733.5h0M1350.2 733.5h0M1381.1 733.5h0M1411.9 733.5h0M1442.8 733.5h0M1473.6 733.5h0M1504.4 733.5h0M1535.2 733.5h0M1566.1 733.5h0M1596.9 733.5h0M1627.8 733.5h0M1658.6 733.5h0M1689.4 733.5h0M1720.2 733.5h0M1751.1 733.5h0M1781.9 733.5h0M1812.8 733.5h0M1843.6 733.5h0M1874.4 733.5h0M1905.2 733.5h0M1936.1 733.5h0M1966.9 733.5h0M1997.8 733.5h0M2028.6 733.5h0M2059.4 733.5h0M2095.4 733.5h0M2136.5 733.5h0M1211.5 764.3h0M1232.1 764.3h0M1262.9 764.3h0M1304 764.3h0M1334.8 764.3h0M1365.7 764.3h0M1396.5 764.3h0M1427.3 764.3h0M1458.2 764.3h0M1489 764.3h0M1519.8 764.3h0M1550.7 764.3h0M1581.5 764.3h0M1612.3 764.3h0M1643.2 764.3h0M1674 764.3h0M1704.8 764.3h0M1735.7 764.3h0M1766.5 764.3h0M1797.3 764.3h0M1828.2 764.3h0M1859 764.3h0M1889.8 764.3h0M1920.7 764.3h0M1951.5 764.3h0M1982.3 764.3h0M2013.2 764.3h0M2044 764.3h0M2085.1 764.3h0M2115.9 764.3h0M2136.5 764.3h0M1211.5 795.2h0M1252.6 795.2h0M1283.4 795.2h0M1319.4 795.2h0M1350.2 795.2h0M1381.1 795.2h0M1411.9 795.2h0M1442.8 795.2h0M1473.6 795.2h0M1504.4 795.2h0M1535.2 795.2h0M1566.1 795.2h0M1596.9 795.2h0M1627.8 795.2h0M1658.6 795.2h0M1689.4 795.2h0M1720.2 795.2h0M1751.1 795.2h0M1781.9 795.2h0M1812.8 795.2h0M1843.6 795.2h0M1874.4 795.2h0M1905.2 795.2h0M1936.1 795.2h0M1966.9 795.2h0M1997.8 795.2h0M2028.6 795.2h0M2064.6 795.2h0M2095.4 795.2h0M2136.5 795.2h0M1211.5 826h0M1232.1 826h0M1262.9 826h0M1304 826h0M1334.8 826h0M1365.7 826h0M1396.5 826h0M1427.3 826h0M1458.2 826h0M1489 826h0M1519.8 826h0M1550.7 826h0M1581.5 826h0M1612.3 826h0M1643.2 826h0M1674 826h0M1704.8 826h0M1735.7 826h0M1766.5 826h0M1797.3 826h0M1828.2 826h0M1859 826h0M1889.8 826h0M1920.7 826h0M1951.5 826h0M1982.3 826h0M2013.2 826h0M2044 826h0M2085.1 826h0M2115.9 826h0M2136.5 826h0M1211.5 856.8h0M1252.6 856.8h0M1283.4 856.8h0M1319.4 856.8h0M1350.2 856.8h0M1381.1 856.8h0M1411.9 856.8h0M1442.8 856.8h0M1473.6 856.8h0M1504.4 856.8h0M1535.2 856.8h0M1566.1 856.8h0M1596.9 856.8h0M1627.8 856.8h0M1658.6 856.8h0M1689.4 856.8h0M1720.2 856.8h0M1751.1 856.8h0M1781.9 856.8h0M1812.8 856.8h0M1843.6 856.8h0M1874.4 856.8h0M1905.2 856.8h0M1936.1 856.8h0M1966.9 856.8h0M1997.8 856.8h0M2028.6 856.8h0M2064.6 856.8h0M2095.4 856.8h0M2136.5 856.8h0M1211.5 887.7h0M1232.1 887.7h0M1262.9 887.7h0M1304 887.7h0M1334.8 887.7h0M1365.7 887.7h0M1396.5 887.7h0M1427.3 887.7h0M1458.2 887.7h0M1489 887.7h0M1519.8 887.7h0M1550.7 887.7h0M1581.5 887.7h0M1612.3 887.7h0M1643.2 887.7h0M1674 887.7h0M1704.8 887.7h0M1735.7 887.7h0M1766.5 887.7h0M1797.3 887.7h0M1828.2 887.7h0M1859 887.7h0M1889.8 887.7h0M1920.7 887.7h0M1951.5 887.7h0M1982.3 887.7h0M2013.2 887.7h0M2044 887.7h0M2085.1 887.7h0M2115.9 887.7h0M2136.5 887.7h0M1211.5 918.5h0M1252.6 918.5h0M1288.6 918.5h0M1319.4 918.5h0M1350.2 918.5h0M1381.1 918.5h0M1411.9 918.5h0M1442.8 918.5h0M1473.6 918.5h0M1504.4 918.5h0M1535.2 918.5h0M1566.1 918.5h0M1596.9 918.5h0M1627.8 918.5h0M1658.6 918.5h0M1689.4 918.5h0M1720.2 918.5h0M1751.1 918.5h0M1781.9 918.5h0M1812.8 918.5h0M1843.6 918.5h0M1874.4 918.5h0M1905.2 918.5h0M1936.1 918.5h0M1966.9 918.5h0M1997.8 918.5h0M2028.6 918.5h0M2059.4 918.5h0M2095.4 918.5h0M2136.5 918.5h0M1211.5 949.3h0M1273.2 949.3h0M1304 949.3h0M1334.8 949.3h0M1365.7 949.3h0M1396.5 949.3h0M1427.3 949.3h0M1458.2 949.3h0M1489 949.3h0M1519.8 949.3h0M1550.7 949.3h0M1581.5 949.3h0M1612.3 949.3h0M1643.2 949.3h0M1674 949.3h0M1704.8 949.3h0M1735.7 949.3h0M1766.5 949.3h0M1797.3 949.3h0M1828.2 949.3h0M1859 949.3h0M1889.8 949.3h0M1920.7 949.3h0M1951.5 949.3h0M1982.3 949.3h0M2013.2 949.3h0M2044 949.3h0M2074.8 949.3h0M2136.5 949.3h0M1232.1 959.6h0M2115.9 959.6h0M1283.4 980.2h0M1314.3 980.2h0M1345.1 980.2h0M1375.9 980.2h0M1417.1 980.2h0M1447.9 980.2h0M1478.7 980.2h0M1499.3 980.2h0M1530.1 980.2h0M1560.9 980.2h0M1591.8 980.2h0M1622.6 980.2h0M1653.4 980.2h0M1684.3 980.2h0M1715.1 980.2h0M1756.2 980.2h0M1787.1 980.2h0M1817.9 980.2h0M1838.4 980.2h0M1869.3 980.2h0M1900.1 980.2h0M1930.9 980.2h0M1972.1 980.2h0M2002.9 980.2h0M2033.7 980.2h0M2064.6 980.2h0M1211.5 990.4h0M1252.6 990.4h0M2095.4 990.4h0M2136.5 990.4h0M1211.5 1011h0M1232.1 1011h0M1273.2 1011h0M1304 1011h0M1334.8 1011h0M1365.7 1011h0M1396.5 1011h0M1427.3 1011h0M1458.2 1011h0M1489 1011h0M1519.8 1011h0M1550.7 1011h0M1581.5 1011h0M1612.3 1011h0M1643.2 1011h0M1674 1011h0M1704.8 1011h0M1735.7 1011h0M1766.5 1011h0M1797.3 1011h0M1828.2 1011h0M1859 1011h0M1889.8 1011h0M1920.7 1011h0M1951.5 1011h0M1982.3 1011h0M2013.2 1011h0M2044 1011h0M2074.8 1011h0M2115.9 1011h0M2136.5 1011h0" fill="none" stroke="#000" stroke-width="9.7" stroke-linecap="round"/>
<path d="M123 1171H1051V2098H123ZM127 1174V2095H1048V1174Z" fill="#000" fill-rule="evenodd"/><text transform="translate(123.3 2165.2) scale(1 1.03)" text-anchor="middle" class="tk">-4000</text><text transform="translate(354.4 2165.2) scale(1 1.03)" text-anchor="middle" class="tk">-3000</text><text transform="translate(585.5 2165.2) scale(1 1.03)" text-anchor="middle" class="tk">-2000</text><text transform="translate(816.7 2165.2) scale(1 1.03)" text-anchor="middle" class="tk">-1000</text><path d="M774.28 2160.94h9.09v4.86h-9.09zM788.08 2160.94h8.72v4.86h-8.72z" fill="#fff"/><text transform="translate(1047.8 2165.2) scale(1 1.03)" text-anchor="middle" class="tk">0</text><text transform="translate(103 2115.8) scale(1 1.03)" text-anchor="end" class="tk">-8</text><text transform="translate(103 2000.2) scale(1 1.03)" text-anchor="end" class="tk">-6</text><text transform="translate(103 1884.5) scale(1 1.03)" text-anchor="end" class="tk">-4</text><text transform="translate(103 1768.9) scale(1 1.03)" text-anchor="end" class="tk">-2</text><text transform="translate(103 1653.2) scale(1 1.03)" text-anchor="end" class="tk">0</text><text transform="translate(103 1537.6) scale(1 1.03)" text-anchor="end" class="tk">2</text><text transform="translate(103 1422) scale(1 1.03)" text-anchor="end" class="tk">4</text><text transform="translate(103 1306.3) scale(1 1.03)" text-anchor="end" class="tk">6</text><text transform="translate(103 1190.7) scale(1 1.03)" text-anchor="end" class="tk">8</text><path d="M356.1 2096.5v-10.7M356.1 1172.5v10.7M587.2 2096.5v-10.7M587.2 1172.5v10.7M818.4 2096.5v-10.7M818.4 1172.5v10.7" stroke="#000" stroke-width="3.2" fill="none"/><path d="M125 1980.5h10.7M1049.5 1980.5h-10.7M125 1865.5h10.7M1049.5 1865.5h-10.7M125 1749.5h10.7M1049.5 1749.5h-10.7M125 1634.5h10.7M1049.5 1634.5h-10.7M125 1518.5h10.7M1049.5 1518.5h-10.7M125 1403.5h10.7M1049.5 1403.5h-10.7M125 1287.5h10.7M1049.5 1287.5h-10.7" stroke="#000" stroke-width="3" fill="none"/><text transform="translate(587.2 1149.1) scale(1 1.05)" text-anchor="middle" class="tt">Eigenvalues</text>
<path d="M254.4 1601h0M254.4 1668h0M276.8 1566.2h0M276.8 1702.8h0M302.8 1557.9h0M302.8 1711.1h0M330.6 1548.5h0M330.6 1720.5h0M339 1600.5h0M339 1668.5h0M358.9 1586.9h0M358.9 1682.1h0M369 1626.2h0M369 1642.8h0M386.5 1614h0M386.5 1655h0M394.7 1595.8h0M394.7 1673.2h0M394 1553.5h0M394 1715.5h0M413.5 1535.8h0M413.5 1733.2h0M438.9 1534.2h0M438.9 1734.8h0M456.4 1627.3h0M456.4 1641.7h0M461.6 1613.7h0M461.6 1655.3h0M475.9 1601h0M475.9 1668h0M485.9 1588.1h0M485.9 1680.9h0M488.6 1568.5h0M488.6 1700.5h0M496.3 1621.8h0M496.3 1647.2h0M504.8 1586.2h0M504.8 1682.8h0M511.3 1615.9h0M511.3 1653.1h0M520.4 1564.9h0M520.4 1704.1h0M520 1581.8h0M520 1687.2h0M525.8 1621h0M525.8 1648h0M537.8 1598.6h0M537.8 1670.4h0M549.1 1601.1h0M549.1 1667.9h0M576.7 1565.1h0M576.7 1703.9h0M588.9 1592.7h0M588.9 1676.3h0M594.3 1526.8h0M594.3 1742.2h0M598 1538h0M598 1731h0M613.1 1519.9h0M613.1 1749.1h0M607 1614.8h0M607 1654.2h0M615 1608.8h0M615 1660.2h0M610.1 1630.4h0M610.1 1638.6h0M624 1615.9h0M624 1653.1h0M641 1611.8h0M641 1657.2h0M646.3 1582.8h0M646.3 1686.2h0M648.8 1537.5h0M648.8 1731.5h0M673.9 1572.9h0M673.9 1696.1h0M690 1544.7h0M690 1724.3h0M694.9 1631.5h0M694.9 1637.5h0M712 1494.9h0M712 1774.1h0M724 1611.8h0M724 1657.2h0M724 1624.2h0M724 1644.8h0M751.2 1584.4h0M751.2 1684.6h0M757 1575.3h0M757 1693.7h0M752.7 1609.7h0M752.7 1659.3h0M779.5 1615.5h0M779.5 1653.5h0M800.4 1620.3h0M800.4 1648.7h0M796.8 1627.3h0M796.8 1641.7h0M814.9 1476.5h0M814.9 1792.5h0M829.1 1524.5h0M829.1 1744.5h0M818.2 1553.3h0M818.2 1715.7h0M840.9 1546.3h0M840.9 1722.7h0M854.7 1565.7h0M854.7 1703.3h0M847.8 1582.6h0M847.8 1686.4h0M840.6 1598.3h0M840.6 1670.7h0M864.2 1618.8h0M864.2 1650.2h0M872.7 1604h0M872.7 1665h0M881.9 1532.5h0M881.9 1736.5h0M900.8 1501.4h0M900.8 1767.6h0M910.3 1490.8h0M910.3 1778.2h0M927.7 1499.2h0M927.7 1769.8h0M919.1 1558.7h0M919.1 1710.3h0M901.8 1590.8h0M901.8 1678.2h0M900.9 1616.5h0M900.9 1652.5h0M919.1 1620.9h0M919.1 1648.1h0M936.5 1627.3h0M936.5 1641.7h0M950.3 1595.8h0M950.3 1673.2h0M967 1631.5h0M967 1637.5h0M613.5 1221.8h0M613.5 2047.2h0M704.9 1303.8h0M704.9 1965.2h0M644.1 1334.1h0M644.1 1934.9h0M668.5 1406.8h0M668.5 1862.2h0M552.9 1633h0M552.9 1636h0M831.8 1632.5h0M831.8 1636.5h0M225.9 1634.5h0M237 1634.5h0M266 1634.5h0M950.9 1633.2h0M950.9 1635.8h0M998.5 1633.5h0M998.5 1635.5h0" fill="none" stroke="#000" stroke-width="9.7" stroke-linecap="round"/><path d="M247.8 1634.5H256M276.6 1634.5H291M303.1 1634.5H1049.5" stroke="#000" stroke-width="8.9" stroke-linecap="round" fill="none"/>
<path d="M1210 1171H2138V2098H1210ZM1213 1174V2095H2135V1174Z" fill="#000" fill-rule="evenodd"/><text transform="translate(1209.8 2165.2) scale(1 1.03)" text-anchor="middle" class="tk">-4000</text><text transform="translate(1441 2165.2) scale(1 1.03)" text-anchor="middle" class="tk">-3000</text><text transform="translate(1672.3 2165.2) scale(1 1.03)" text-anchor="middle" class="tk">-2000</text><text transform="translate(1903.5 2165.2) scale(1 1.03)" text-anchor="middle" class="tk">-1000</text><path d="M1861.16 2160.94h9.09v4.86h-9.09zM1874.96 2160.94h8.72v4.86h-8.72z" fill="#fff"/><text transform="translate(2134.8 2165.2) scale(1 1.03)" text-anchor="middle" class="tk">0</text><text transform="translate(1189.5 2115.8) scale(1 1.03)" text-anchor="end" class="tk">-6</text><text transform="translate(1189.5 1961.6) scale(1 1.03)" text-anchor="end" class="tk">-4</text><text transform="translate(1189.5 1807.4) scale(1 1.03)" text-anchor="end" class="tk">-2</text><text transform="translate(1189.5 1653.2) scale(1 1.03)" text-anchor="end" class="tk">0</text><text transform="translate(1189.5 1499.1) scale(1 1.03)" text-anchor="end" class="tk">2</text><text transform="translate(1189.5 1344.9) scale(1 1.03)" text-anchor="end" class="tk">4</text><text transform="translate(1189.5 1190.7) scale(1 1.03)" text-anchor="end" class="tk">6</text><path d="M1442.8 2096.5v-10.7M1442.8 1172.5v10.7M1674 2096.5v-10.7M1674 1172.5v10.7M1905.2 2096.5v-10.7M1905.2 1172.5v10.7" stroke="#000" stroke-width="3.2" fill="none"/><path d="M1211.5 1942.5h10.7M2136.5 1942.5h-10.7M1211.5 1788.5h10.7M2136.5 1788.5h-10.7M1211.5 1634.5h10.7M2136.5 1634.5h-10.7M1211.5 1480.5h10.7M2136.5 1480.5h-10.7M1211.5 1326.5h10.7M2136.5 1326.5h-10.7" stroke="#000" stroke-width="3" fill="none"/><text transform="translate(1674 1149.1) scale(1 1.05)" text-anchor="middle" class="tt">Eigenvalues</text>
<path d="M1387.5 1380.9h0M1387.5 1888.1h0M1362.9 1399.1h0M1362.9 1869.9h0M1435.8 1447.2h0M1435.8 1821.8h0M1340.9 1485h0M1340.9 1784h0M1585.5 1443.6h0M1585.5 1825.4h0M1567.9 1487h0M1567.9 1782h0M1535 1537.3h0M1535 1731.7h0M1585 1544.7h0M1585 1724.3h0M1498 1553.9h0M1498 1715.1h0M1374.3 1562.5h0M1374.3 1706.5h0M1573.9 1566.5h0M1573.9 1702.5h0M1324.2 1584.8h0M1324.2 1684.2h0M1565.9 1595.8h0M1565.9 1673.2h0M1503 1609.7h0M1503 1659.3h0M1548.9 1614.9h0M1548.9 1654.1h0M1553.1 1617.2h0M1553.1 1651.8h0M1558.1 1616.6h0M1558.1 1652.4h0M1641.9 1374.6h0M1641.9 1894.4h0M1645.9 1400.9h0M1645.9 1868.1h0M1661.5 1461h0M1661.5 1808h0M1615.1 1472.9h0M1615.1 1796.1h0M1620.2 1495.9h0M1620.2 1773.1h0M1807.9 1488.9h0M1807.9 1780.1h0M1653.1 1517.9h0M1653.1 1751.1h0M1675.2 1519.7h0M1675.2 1749.3h0M1850.9 1515.4h0M1850.9 1753.6h0M1623.9 1535.7h0M1623.9 1733.3h0M1795.9 1533.4h0M1795.9 1735.6h0M1663.6 1544h0M1663.6 1725h0M1643.5 1548.6h0M1643.5 1720.4h0M1782.1 1555.3h0M1782.1 1713.7h0M1830 1561.1h0M1830 1707.9h0M1672.4 1570.8h0M1672.4 1698.2h0M1680.2 1574.9h0M1680.2 1694.1h0M1776.4 1582h0M1776.4 1687h0M1593.2 1584.2h0M1593.2 1684.8h0M1649.9 1585.4h0M1649.9 1683.6h0M1865.9 1584.9h0M1865.9 1684.1h0M1853.3 1587.9h0M1853.3 1681.1h0M1622 1596.9h0M1622 1672.1h0M1595.1 1602.8h0M1595.1 1666.2h0M1628.8 1604.9h0M1628.8 1664.1h0M1724.9 1605.8h0M1724.9 1663.2h0M1838.5 1607.8h0M1838.5 1661.2h0M1659 1611.9h0M1659 1657.1h0M1717.6 1612.9h0M1717.6 1656.1h0M1738.5 1614.1h0M1738.5 1654.9h0M1704.2 1616.9h0M1704.2 1652.1h0M1654.8 1624h0M1654.8 1645h0M1857.6 1624.8h0M1857.6 1644.2h0M1879 1553.4h0M1879 1715.6h0M1878.7 1567.9h0M1878.7 1701.1h0M1919.1 1563.5h0M1919.1 1705.5h0M1937.9 1584.2h0M1937.9 1684.8h0M1962.1 1580.9h0M1962.1 1688.1h0M1915.5 1600h0M1915.5 1669h0M1969 1605h0M1969 1664h0M1939.3 1613.9h0M1939.3 1655.1h0M2011 1611.6h0M2011 1657.4h0M1949.8 1627.7h0M1949.8 1641.3h0M1985 1628.7h0M1985 1640.3h0M2021.9 1627.7h0M2021.9 1641.3h0M1670 1219.1h0M1670 2049.9h0M1313 1634.5h0M1327.3 1634.5h0M1337.5 1634.5h0" fill="none" stroke="#000" stroke-width="9.7" stroke-linecap="round"/><path d="M1348.7 1634.5H1360.1M1372.2 1634.5H2136.5" stroke="#000" stroke-width="8.9" stroke-linecap="round" fill="none"/>
</svg>
</body>
</html>
